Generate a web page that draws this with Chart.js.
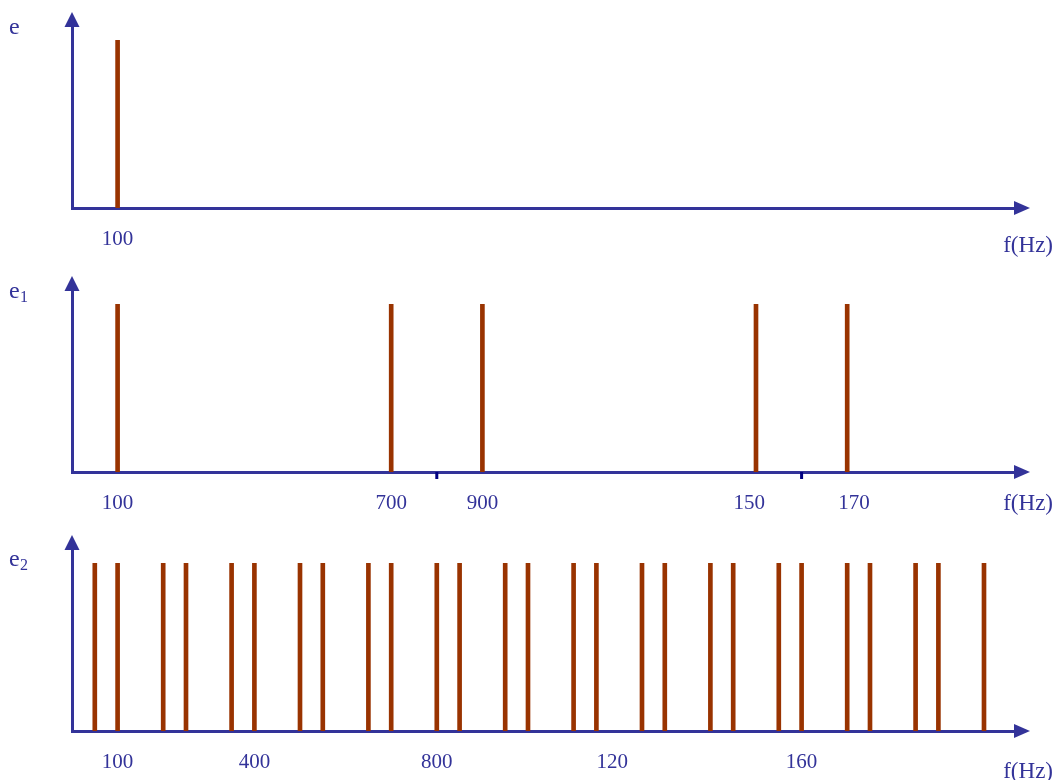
<!DOCTYPE html>
<html>
<head>
<meta charset="utf-8">
<script src="https://cdn.jsdelivr.net/npm/chart.js@4"></script>
<style>
  body { margin: 0; background: #fff; }
  canvas { display: block; }
</style>
</head>
<body>
<canvas id="c0" width="1054" height="260"></canvas>
<canvas id="c1" width="1054" height="260"></canvas>
<canvas id="c2" width="1054" height="260"></canvas>
<script>
// spectrum of e
const eFreqs = [100];
const eAmps = [1];
const eTicks = [100];
const eTickLabels = ['100'];

// spectrum of e1 (plus the two small carrier marks)
const e1Freqs = [100, 700, 900, 1500, 1700];
const e1Amps = [1, 1, 1, 1, 1];
const e1Marks = [800, 1600];
const e1Ticks = [100, 700, 900, 1485, 1715];
const e1TickLabels = ['100', '700', '900', '150', '170'];

// spectrum of e2
const e2Freqs = [50, 100, 200, 250, 350, 400, 500, 550, 650, 700, 800, 850, 950, 1000,
                 1100, 1150, 1250, 1300, 1400, 1450, 1550, 1600, 1700, 1750, 1850, 1900, 2000];
const e2Amps = [1, 1, 1, 1, 1, 1, 1, 1, 1, 1, 1, 1, 1, 1,
                1, 1, 1, 1, 1, 1, 1, 1, 1, 1, 1, 1, 1];
const e2Ticks = [100, 400, 800, 1185, 1600];
const e2TickLabels = ['100', '400', '800', '120', '160'];

const AXIS = '#333399';
const BAR = '#993300';
const SERIF = '"Liberation Serif", "Times New Roman", serif';

// arrows, axis names and carrier marks
const spectrumPlugin = {
    id: 'spectrum',
    afterDraw(chart, args, opts) {
        const c = chart.ctx;
        const a = chart.chartArea;
        const x = chart.scales.x;
        c.save();
        c.fillStyle = AXIS;
        // x arrow
        c.beginPath();
        c.moveTo(a.right - 1, a.bottom - 7);
        c.lineTo(a.right + 15, a.bottom);
        c.lineTo(a.right - 1, a.bottom + 7);
        c.closePath();
        c.fill();
        // y arrow
        c.beginPath();
        c.moveTo(a.left - 7.5, a.top + 1);
        c.lineTo(a.left, a.top - 14);
        c.lineTo(a.left + 7.5, a.top + 1);
        c.closePath();
        c.fill();
        // small marks under the axis
        c.fillStyle = '#000080';
        opts.marks.forEach(m => {
            c.fillRect(x.getPixelForValue(m) - 1.5, a.bottom, 3, 7);
        });
        // labels
        c.fillStyle = AXIS;
        c.textBaseline = 'alphabetic';
        c.textAlign = 'left';
        c.font = '24px ' + SERIF;
        c.fillText(opts.name, 9, opts.nameY);
        if (opts.sub) {
            c.font = '16px ' + SERIF;
            c.fillText(opts.sub, 20, opts.nameY + 4);
        }
        c.font = '23px ' + SERIF;
        c.textAlign = 'right';
        c.fillText('f(Hz)', 1053, opts.unitY);
        c.restore();
    }
};

const panels = [
    { id: 'c0', freqs: eFreqs, amps: eAmps, ticks: eTicks, labels: eTickLabels, marks: [],
      name: 'e', sub: '', top: 26, nameY: 34, unitY: 252 },
    { id: 'c1', freqs: e1Freqs, amps: e1Amps, ticks: e1Ticks, labels: e1TickLabels, marks: e1Marks,
      name: 'e', sub: '1', top: 30, nameY: 38, unitY: 250 },
    { id: 'c2', freqs: e2Freqs, amps: e2Amps, ticks: e2Ticks, labels: e2TickLabels, marks: [],
      name: 'e', sub: '2', top: 29, nameY: 46, unitY: 258 }
];

panels.forEach(p => {
    const ctx = document.getElementById(p.id).getContext('2d');
    new Chart(ctx, {
        type: 'bar',
        data: {
            datasets: [{
                data: p.freqs.map((f, i) => ({ x: f, y: p.amps[i] })),
                backgroundColor: BAR,
                borderWidth: 0,
                barThickness: 4
            }]
        },
        options: {
            responsive: false,
            animation: false,
            devicePixelRatio: 1,
            events: [],
            layout: { padding: { left: 72, right: 39, top: p.top, bottom: 0 } },
            plugins: {
                legend: { display: false },
                tooltip: { enabled: false },
                spectrum: { marks: p.marks, name: p.name, sub: p.sub, nameY: p.nameY, unitY: p.unitY }
            },
            scales: {
                x: {
                    type: 'linear',
                    min: 0,
                    max: 2068,
                    offset: false,
                    grid: { display: false, drawTicks: false },
                    border: { display: true, color: AXIS, width: 3 },
                    afterBuildTicks: s => { s.ticks = p.ticks.map(v => ({ value: v })); },
                    afterFit: s => { s.height = 260 - p.top - 182; },
                    ticks: {
                        autoSkip: false,
                        maxRotation: 0,
                        padding: 19,
                        color: AXIS,
                        font: { family: SERIF, size: 21 },
                        callback: (v, i) => p.labels[i]
                    }
                },
                y: {
                    min: 0,
                    max: 1.085,
                    grid: { display: false, drawTicks: false },
                    border: { display: true, color: AXIS, width: 3 },
                    ticks: { display: false },
                    afterFit: s => { s.width = 0; }
                }
            }
        },
        plugins: [spectrumPlugin]
    });
});
</script>
</body>
</html>
